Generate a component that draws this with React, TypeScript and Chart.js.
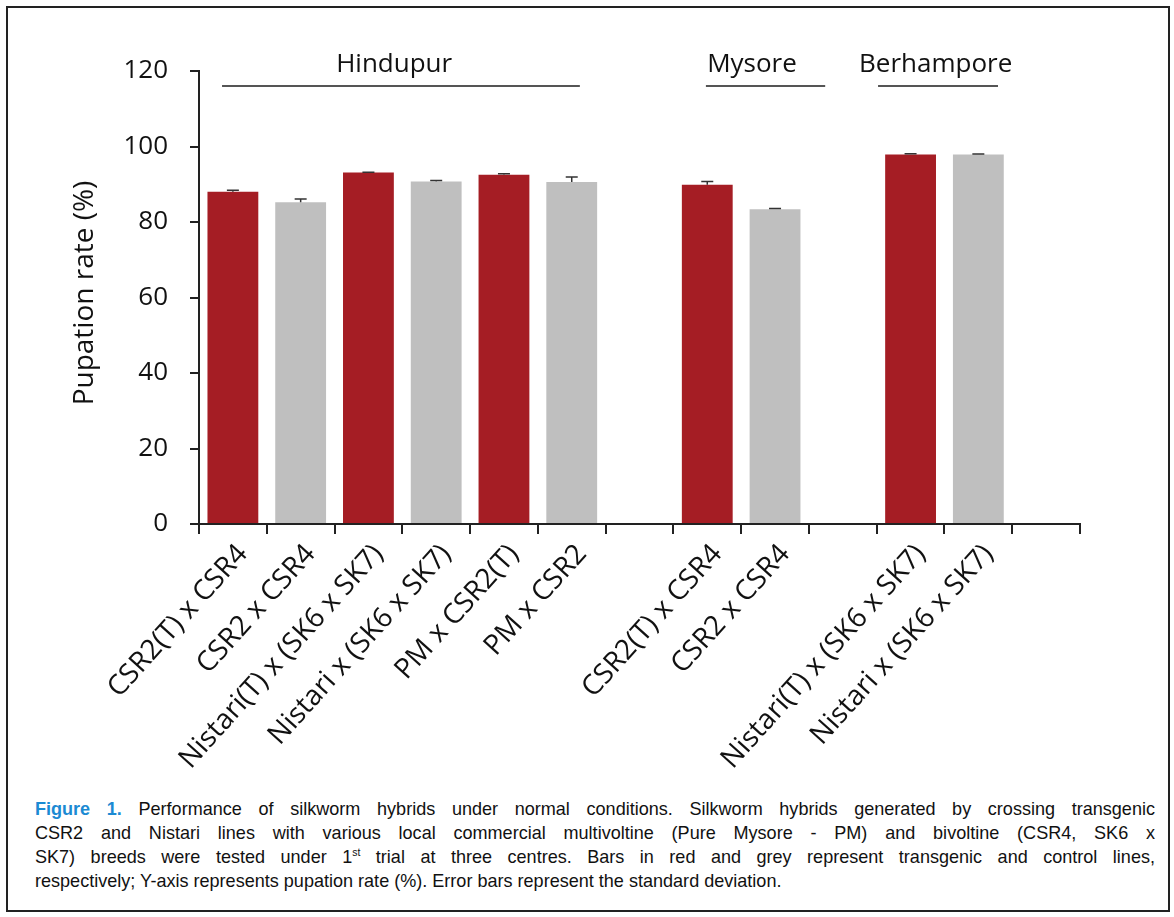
import React, { useEffect, useRef } from "react";
import { Chart, registerables } from "chart.js";

Chart.register(...registerables);

// ---- data ----
const categories = [
  "CSR2(T) x CSR4",
  "CSR2 x CSR4",
  "Nistari(T) x (SK6 x SK7)",
  "Nistari x (SK6 x SK7)",
  "PM x CSR2(T)",
  "PM x CSR2",
  "",
  "CSR2(T) x CSR4",
  "CSR2 x CSR4",
  "",
  "Nistari(T) x (SK6 x SK7)",
  "Nistari x (SK6 x SK7)",
  "",
];
const pupationRate = [88.0, 85.2, 93.1, 90.7, 92.5, 90.6, null, 89.9, 83.4, null, 97.9, 97.9, null];
const stdDev = [0.4, 0.9, 0.1, 0.3, 0.3, 1.3, null, 0.8, 0.2, null, 0.2, 0.1, null];
const isTransgenic = [true, false, true, false, true, false, false, true, false, false, true, false, false];
const yTicks = [0, 20, 40, 60, 80, 100, 120];

const centreNames = ["Hindupur", "Mysore", "Berhampore"];
const centreLineStart = [-0.16, 6.98, 9.52];
const centreLineEnd = [5.12, 8.74, 11.29];
const centreLabelAt = [2.38, 7.66, 10.37];

const RED = "#a51d24";
const GREY = "#bfbfbf";
const FONT = "'Open Sans', sans-serif";

const overlayPlugin = {
  id: "overlay",
  afterDatasetsDraw(chart: any) {
    const ctx = chart.ctx;
    const x = chart.scales.x;
    const y = chart.scales.y;
    // error bars
    ctx.save();
    ctx.strokeStyle = "#333";
    ctx.lineWidth = 1.5;
    pupationRate.forEach((v, i) => {
      const e = stdDev[i];
      if (v == null || e == null) return;
      const px = x.getPixelForValue(i);
      const y0 = y.getPixelForValue(v);
      const y1 = y.getPixelForValue(v + e);
      ctx.beginPath();
      ctx.moveTo(px, y0);
      ctx.lineTo(px, y1);
      ctx.moveTo(px - 6, y1);
      ctx.lineTo(px + 6, y1);
      ctx.stroke();
    });
    ctx.restore();

    // centre labels and lines
    ctx.save();
    ctx.fillStyle = "#111";
    ctx.font = `26px ${FONT}`;
    ctx.textAlign = "center";
    ctx.textBaseline = "alphabetic";
    ctx.strokeStyle = "#555";
    ctx.lineWidth = 2;
    centreNames.forEach((name, i) => {
      ctx.fillText(name, x.getPixelForValue(centreLabelAt[i]), 72);
      ctx.beginPath();
      ctx.moveTo(x.getPixelForValue(centreLineStart[i]), 86);
      ctx.lineTo(x.getPixelForValue(centreLineEnd[i]), 86);
      ctx.stroke();
    });
    ctx.restore();

    // y title
    ctx.save();
    ctx.fillStyle = "#111";
    ctx.font = `28px ${FONT}`;
    ctx.textAlign = "center";
    ctx.textBaseline = "middle";
    ctx.translate(85, 293);
    ctx.rotate(-Math.PI / 2);
    ctx.fillText("Pupation rate (%)", 0, 0);
    ctx.restore();
  },
};

function BarChart() {
  const ref = useRef<HTMLCanvasElement | null>(null);
  useEffect(() => {
    if (!ref.current) return;
    const chart = new Chart(ref.current, {
      type: "bar",
      data: {
        labels: categories,
        datasets: [
          {
            data: pupationRate as any,
            backgroundColor: isTransgenic.map((t) => (t ? RED : GREY)),
            borderWidth: 0,
            barPercentage: 0.75,
            categoryPercentage: 1,
          },
        ],
      },
      options: {
        responsive: false,
        animation: false,
        devicePixelRatio: 1,
        layout: { padding: { left: 0, right: 94, top: 71, bottom: 0 } },
        plugins: { legend: { display: false }, tooltip: { enabled: false } },
        scales: {
          x: {
            offset: true,
            grid: {
              offset: true,
              drawOnChartArea: false,
              tickLength: 10,
              color: "#222",
              lineWidth: 2,
            },
            border: { color: "#222", width: 2 },
            ticks: {
              autoSkip: false,
              maxRotation: 48,
              minRotation: 48,
              labelOffset: 10,
              color: "#111",
              padding: 4,
              font: { family: FONT, size: 28 },
            },
            afterFit: (s: any) => {
              s.height = 256;
            },
          },
          y: {
            min: 0,
            max: 120,
            afterBuildTicks: (s: any) => {
              s.ticks = yTicks.map((v) => ({ value: v }));
            },
            grid: {
              drawOnChartArea: false,
              tickLength: 9,
              color: "#222",
              lineWidth: 2,
            },
            border: { color: "#222", width: 2 },
            ticks: {
              color: "#111",
              padding: 22,
              font: { family: FONT, size: 26 },
            },
            afterFit: (s: any) => {
              s.width = 199;
            },
          },
        },
      },
      plugins: [overlayPlugin],
    });
    return () => chart.destroy();
  }, []);
  return (
    <canvas
      ref={ref}
      width={1174}
      height={780}
      style={{ position: "absolute", left: 0, top: 0, width: 1174, height: 780 }}
    />
  );
}

const captionLines = [
  "Performance of silkworm hybrids under normal conditions. Silkworm hybrids generated by crossing transgenic",
  "CSR2 and Nistari lines with various local commercial multivoltine (Pure Mysore - PM) and bivoltine (CSR4, SK6 x",
  "SK7) breeds were tested under 1",
  "respectively; Y-axis represents pupation rate (%). Error bars represent the standard deviation.",
];

const SQUEEZE = 0.95;

export default function App() {
  const lineStyle: React.CSSProperties = {
    whiteSpace: "nowrap",
    height: 24,
    lineHeight: "24px",
  };
  const justify: React.CSSProperties = { textAlign: "justify", textAlignLast: "justify" as any };
  return (
    <div
      style={{
        position: "fixed",
        left: 0,
        top: 0,
        width: 1174,
        height: 917,
        background: "#fff",
        overflow: "hidden",
      }}
    >
      <div
        style={{
          position: "absolute",
          left: 6,
          top: 6,
          width: 1160,
          height: 902,
          border: "2px solid #222",
        }}
      />
      <BarChart />
      <div
        style={{
          position: "absolute",
          left: 35,
          top: 797,
          width: 1120 / SQUEEZE,
          transform: `scaleX(${SQUEEZE})`,
          transformOrigin: "0 0",
          fontFamily: "'Liberation Sans Narrow', 'Liberation Sans', Arial, sans-serif",
          fontSize: 19,
          color: "#111",
        }}
      >
        <div style={{ ...lineStyle, ...justify }}>
          <span style={{ color: "#1b8ad3", fontWeight: "bold" }}>Figure 1.</span> {captionLines[0]}
        </div>
        <div style={{ ...lineStyle, ...justify }}>{captionLines[1]}</div>
        <div style={{ ...lineStyle, ...justify }}>
          {captionLines[2]}
          <sup style={{ fontSize: 11, lineHeight: 0 }}>st</sup> trial at three centres. Bars in red and grey represent transgenic and control lines,
        </div>
        <div style={lineStyle}>{captionLines[3]}</div>
      </div>
    </div>
  );
}
